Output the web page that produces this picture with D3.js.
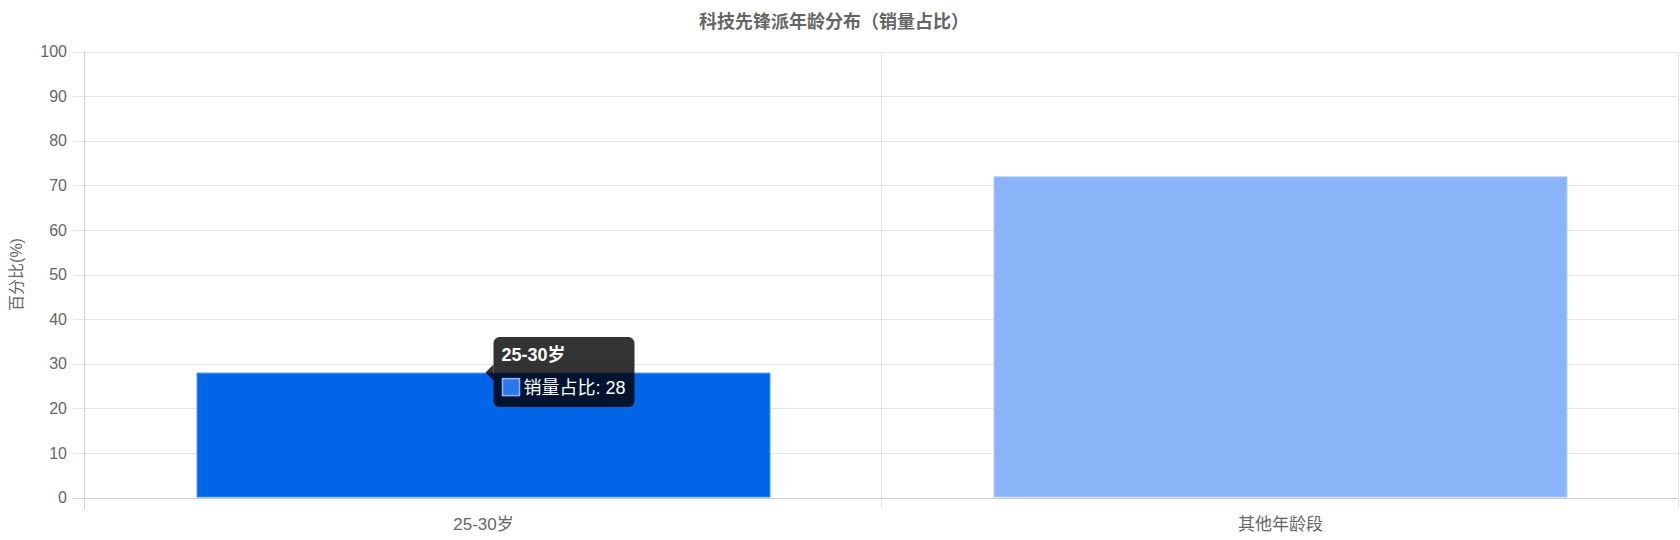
<!DOCTYPE html>
<html>
<head>
<meta charset="utf-8">
<script src="https://cdn.jsdelivr.net/npm/d3@7"></script>
<style>
  body { margin: 0; background: #fff; }
  svg { font-family: "Liberation Sans", Arial, "Noto Sans CJK SC", sans-serif; }
</style>
</head>
<body>
<svg width="1680" height="540"></svg>
<script>
var categories = ["25-30岁", "其他年龄段"];
var values = [28, 72];
var yTicks = [0, 10, 20, 30, 40, 50, 60, 70, 80, 90, 100];
var fills = ["#0066e8", "#8ab4f8"];
var strokes = ["#3d8bf0", "#a9c8fa"];
var seriesName = "销量占比";
var chartTitle = "科技先锋派年龄分布（销量占比）";

let plotLeft = 85, plotRight = 1679, plotTop = 51.5, plotBottom = 497.5;

var svg = d3.select("svg");

var x = d3.scaleBand(categories, [plotLeft, plotRight]);
var y = d3.scaleLinear([0, 100], [plotBottom, plotTop]);

// horizontal grid + left tick marks
svg.append("g")
    .selectAll("line")
    .data(yTicks)
    .enter()
        .append("line")
        .attr("x1", plotLeft - 12)
        .attr("x2", plotRight)
        .attr("y1", function(d) { return Math.round(y(d)) + 0.5; })
        .attr("y2", function(d) { return Math.round(y(d)) + 0.5; })
        .attr("stroke", function(d) { return d == 0 ? "#cccccc" : "#e6e6e6"; })
        .attr("stroke-width", 1);

// vertical grid lines at category boundaries
var xBounds = [plotLeft, plotLeft + x.bandwidth(), plotRight];
svg.append("g")
    .selectAll("line")
    .data(xBounds)
    .enter()
        .append("line")
        .attr("x1", function(d) { return Math.round(d) - 0.5; })
        .attr("x2", function(d) { return Math.round(d) - 0.5; })
        .attr("y1", plotTop)
        .attr("y2", plotBottom + 12)
        .attr("stroke", function(d, i) { return i == 0 ? "#d0d0d0" : "#e6e6e6"; });

// y tick labels
svg.append("g")
    .selectAll("text")
    .data(yTicks)
    .enter()
        .append("text")
        .attr("x", plotLeft - 18)
        .attr("y", function(d) { return y(d); })
        .attr("dy", "0.35em")
        .attr("text-anchor", "end")
        .attr("font-size", 16)
        .attr("fill", "#666")
        .text(function(d) { return d; });

// bars
var barW = x.bandwidth() * 0.72;
svg.append("g")
    .selectAll("rect")
    .data(values)
    .enter()
        .append("rect")
        .attr("x", function(d, i) { return x(categories[i]) + (x.bandwidth() - barW) / 2 + 0.5; })
        .attr("y", function(d) { return y(d) + 0.5; })
        .attr("width", barW - 1)
        .attr("height", function(d) { return plotBottom - y(d) - 1; })
        .attr("fill", function(d, i) { return fills[i]; })
        .attr("stroke", function(d, i) { return strokes[i]; })
        .attr("stroke-width", 1);

// x labels
svg.append("g")
    .selectAll("text")
    .data(categories)
    .enter()
        .append("text")
        .attr("x", function(d) { return x(d) + x.bandwidth() / 2; })
        .attr("y", 530)
        .attr("text-anchor", "middle")
        .attr("font-size", 17)
        .attr("fill", "#666")
        .text(function(d) { return d; });

// axis title
svg.append("text")
    .attr("transform", "translate(22," + ((plotTop + plotBottom) / 2) + ") rotate(-90)")
    .attr("text-anchor", "middle")
    .attr("font-size", 16)
    .attr("fill", "#666")
    .text("百分比(%)");

// chart title
svg.append("text")
    .attr("x", (plotLeft + plotRight) / 2 - 48)
    .attr("y", 28)
    .attr("text-anchor", "middle")
    .attr("font-size", 18)
    .attr("font-weight", "bold")
    .attr("fill", "#666")
    .text(chartTitle);

// tooltip on first bar
var tipX = x(categories[0]) + x.bandwidth() / 2 + 2;
var tipY = y(values[0]);
var tip = svg.append("g").attr("transform", "translate(" + tipX + "," + tipY + ")");
tip.append("path")
    .attr("d", "M0,0 L8,-8 L8,8 Z")
    .attr("fill", "rgba(0,0,0,0.8)");
tip.append("rect")
    .attr("x", 8).attr("y", -35.5)
    .attr("width", 141).attr("height", 70)
    .attr("rx", 6)
    .attr("fill", "rgba(0,0,0,0.8)");
tip.append("text")
    .attr("x", 16).attr("y", -12)
    .attr("font-size", 18)
    .attr("font-weight", "bold")
    .attr("fill", "#fff")
    .text(categories[0]);
tip.append("rect")
    .attr("x", 17).attr("y", 6)
    .attr("width", 17).attr("height", 17)
    .attr("fill", "#2a78ea")
    .attr("stroke", "#8ab4f8")
    .attr("stroke-width", 1.5);
tip.append("text")
    .attr("x", 38).attr("y", 21)
    .attr("font-size", 18)
    .attr("fill", "#fff")
    .text(seriesName + ": " + values[0]);
</script>
</body>
</html>
